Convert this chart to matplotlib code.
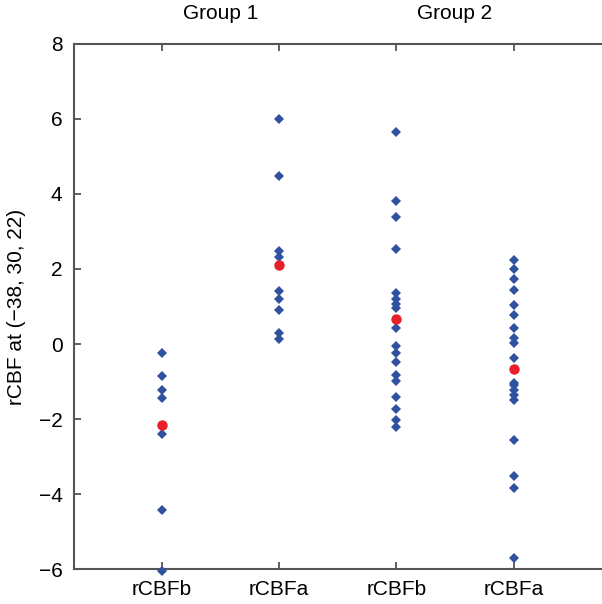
import numpy as np
import matplotlib
matplotlib.use("Agg")
import matplotlib.pyplot as plt
import matplotlib.transforms as mtransforms

# -----------------------------
# Data
# -----------------------------
categories = ["rCBFb", "rCBFa", "rCBFb", "rCBFa"]
groups = ["Group 1", "Group 2"]

g1_before = [-0.23, -0.85, -1.23, -1.44, -2.40, -4.43, -6.05]
g1_after = [6.0, 4.47, 2.49, 2.31, 1.42, 1.19, 0.91, 0.29, 0.13]
g2_before = [5.64, 3.80, 3.38, 2.52, 1.37, 1.21, 1.06, 0.95, 0.42, -0.05,
             -0.25, -0.48, -0.83, -0.98, -1.40, -1.74, -2.03, -2.22]
g2_after = [2.23, 2.01, 1.74, 1.44, 1.04, 0.77, 0.43, 0.17, 0.04, -0.37,
            -1.03, -1.10, -1.22, -1.35, -1.48, -2.56, -3.51, -3.84, -5.69]

means = [-2.15, 2.10, 0.66, -0.67]

series = [g1_before, g1_after, g2_before, g2_after]

# -----------------------------
# Plot
# -----------------------------
plt.rcParams["font.family"] = ["Liberation Sans", "DejaVu Sans"]

fig = plt.figure(figsize=(6.02, 6.04), dpi=100)
ax = fig.add_axes([0.1224, 0.0575, 0.877, 0.8702])

blue = "#3050a0"
red = "#e8202a"

for i, vals in enumerate(series):
    x = np.full(len(vals), i + 1)
    ax.plot(x, vals, linestyle="none", marker="D", markersize=4.6,
            color=blue, markeredgewidth=0, clip_on=False, zorder=4)
    ax.plot(i + 1, means[i], linestyle="none", marker="o", markersize=7.5,
            color=red, markeredgewidth=0, clip_on=False, zorder=5)

ax.set_xlim(0.25, 4.75)
ax.set_ylim(-6, 8)
ax.set_xticks([1, 2, 3, 4])
ax.set_xticklabels(categories)
ax.set_yticks(np.arange(-6, 9, 2))

ax.tick_params(axis="both", direction="in", length=5, width=1.2,
               color="#444444", labelsize=15, top=True, right=False)
ax.tick_params(axis="x", pad=8)
ax.tick_params(axis="y", pad=8)

for side in ["left", "bottom", "top"]:
    ax.spines[side].set_color("#555555")
    ax.spines[side].set_linewidth(1.5)
ax.spines["right"].set_visible(False)

ax.set_ylabel("rCBF at (\u221238, 30, 22)", fontsize=15, labelpad=9)

trans = mtransforms.blended_transform_factory(ax.transData, ax.transAxes)
for gx, name in zip([1.5, 3.5], groups):
    ax.text(gx, 1.04, name, transform=trans, ha="center", va="bottom",
            fontsize=15)

fig.savefig("out.png", dpi=100)
